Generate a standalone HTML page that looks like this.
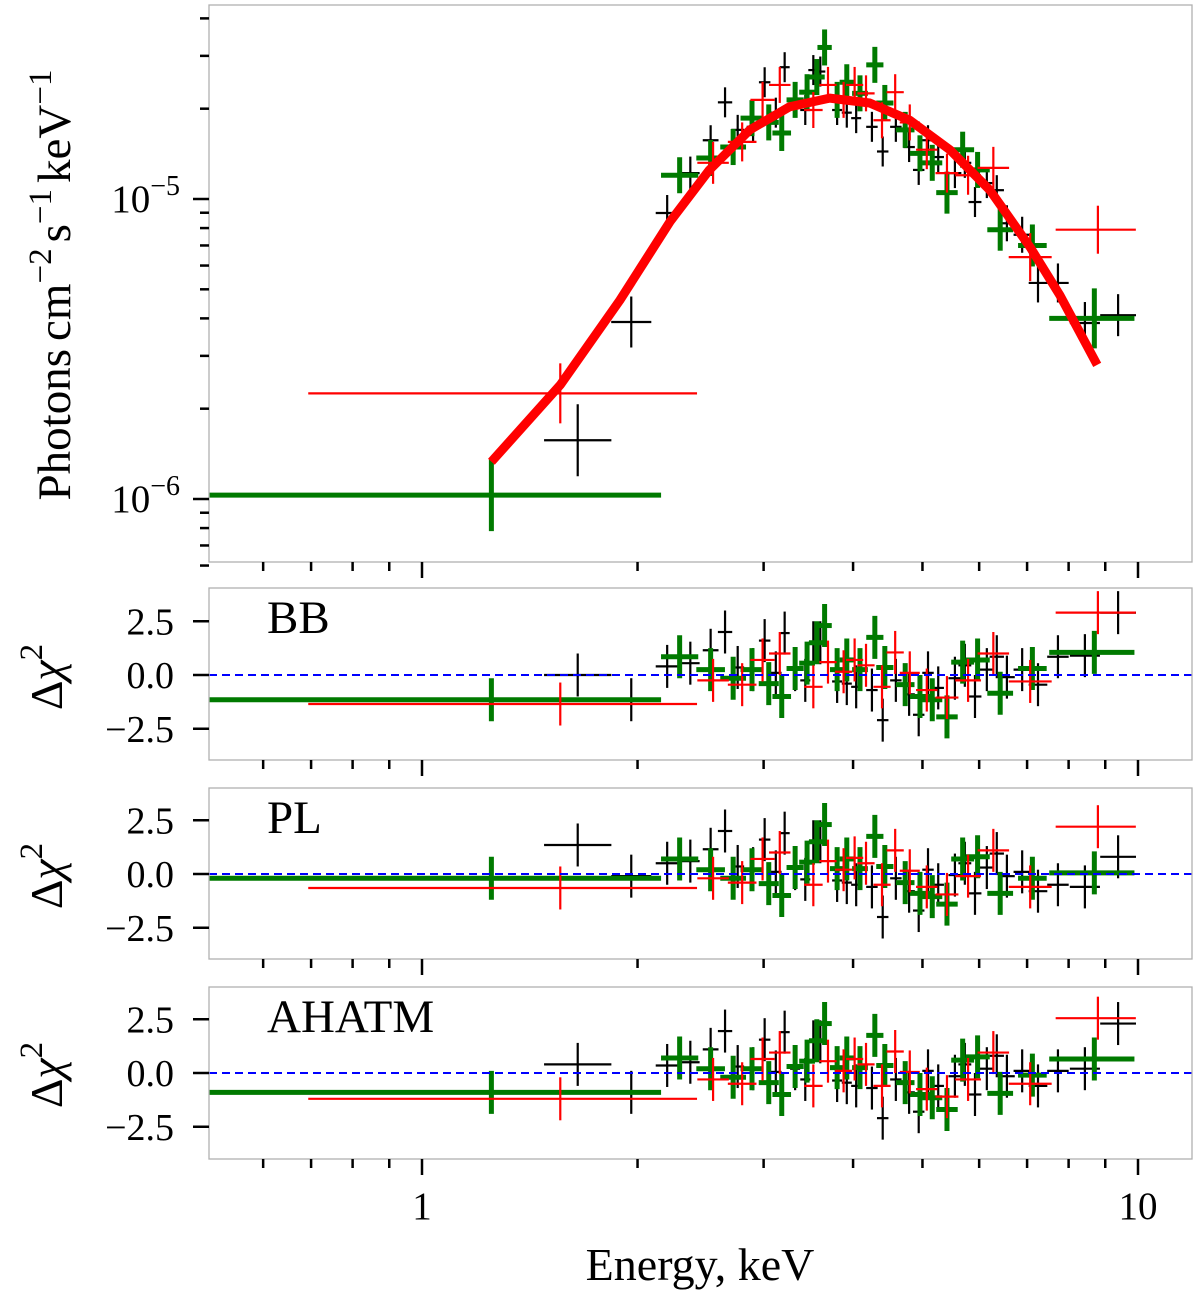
<!DOCTYPE html>
<html><head><meta charset="utf-8"><style>
body{margin:0;background:#fff}
svg{display:block;font-family:"Liberation Serif",serif}
</style></head><body>
<svg id="chart" width="1200" height="1292" viewBox="0 0 1200 1292" xmlns="http://www.w3.org/2000/svg"></svg>
<script>
// ---------- data ----------
const blackE=[1.65,1.96,2.20,2.37,2.53,2.65,2.76,2.90,3.01,3.12,3.21,3.32,3.43,3.52,3.60,3.80,3.92,4.04,4.25,4.40,4.59,4.79,4.94,5.09,5.26,5.55,5.73,5.92,6.15,6.35,6.56,6.89,7.25,7.73,8.43,9.38];
const blackF=[0.157,0.389,0.898,1.22,1.57,2.10,1.70,1.74,2.45,1.94,2.75,2.14,1.98,2.69,2.66,1.98,1.94,1.86,1.74,1.44,1.74,1.49,1.25,1.57,1.38,1.22,1.32,0.977,1.13,1.07,0.83,0.76,0.525,0.525,0.386,0.41];
const blackErr=[0.12,0.085,0.06,0.055,0.05,0.05,0.05,0.05,0.05,0.05,0.05,0.05,0.05,0.05,0.05,0.05,0.05,0.05,0.05,0.05,0.05,0.05,0.05,0.05,0.05,0.05,0.05,0.05,0.05,0.05,0.06,0.06,0.065,0.065,0.07,0.07];
const blackHw=[0.047,0.028,0.016,0.013,0.011,0.01,0.009,0.009,0.008,0.008,0.007,0.007,0.007,0.007,0.007,0.007,0.007,0.007,0.008,0.008,0.008,0.008,0.008,0.008,0.008,0.009,0.009,0.009,0.01,0.01,0.011,0.012,0.013,0.015,0.021,0.025];
const blackBB=[0,-1.15,0.4,0.55,1.15,2.0,0.35,0.25,1.6,0.1,1.95,0.25,-0.25,1.5,1.5,-0.3,-0.4,-0.55,-0.7,-2.1,-0.25,-0.9,-1.85,0.1,-0.6,-0.15,0.45,-1.0,0.25,0.85,-0.1,0.25,-0.45,0.85,0.9,2.9];
const blackPL=[1.35,-0.1,0.5,0.6,1.15,2.0,0.35,0.25,1.6,0.1,1.9,0.25,-0.25,1.5,1.5,-0.3,-0.4,-0.5,-0.6,-2.0,-0.2,-0.8,-1.7,0.2,-0.5,-0.05,0.5,-0.9,0.3,0.95,-0.1,0.1,-0.8,-0.5,-0.6,0.8];
const blackAH=[0.4,-0.9,0.35,0.5,1.1,1.95,0.3,0.2,1.55,0.05,1.9,0.2,-0.3,1.45,1.45,-0.35,-0.45,-0.6,-0.7,-2.1,-0.3,-0.9,-1.8,0.1,-0.6,-0.15,0.4,-1.0,0.2,0.8,-0.15,0.1,-0.6,0.1,0.2,2.3];

const redE=[1.56,2.55,2.80,2.99,3.16,3.52,3.69,3.88,4.02,4.17,4.39,4.58,4.80,5.07,5.41,5.79,6.28,7.07,8.79];
const redF=[0.225,1.32,1.55,2.14,2.40,1.98,2.40,2.14,2.40,2.25,1.83,2.27,1.80,1.46,1.22,1.20,1.27,0.64,0.79];
const redErr=[0.1,0.07,0.065,0.06,0.06,0.06,0.06,0.06,0.06,0.06,0.06,0.06,0.06,0.065,0.065,0.065,0.07,0.08,0.08];
const redHwLo=[0.352,0.022,0.02,0.017,0.015,0.013,0.012,0.012,0.012,0.012,0.012,0.012,0.014,0.015,0.016,0.018,0.022,0.03,0.059];
const redHwHi=[0.191,0.022,0.02,0.017,0.015,0.013,0.012,0.012,0.012,0.012,0.012,0.012,0.014,0.015,0.016,0.018,0.022,0.03,0.053];
const redBB=[-1.35,-0.25,-0.45,0.7,1.0,-0.55,0.6,0.15,0.7,0.45,-0.55,1.05,0.1,-0.7,-1.05,-0.25,1.0,-0.3,2.9];
const redPL=[-0.65,-0.2,-0.4,0.7,1.0,-0.5,0.6,0.2,0.75,0.5,-0.5,1.1,0.15,-0.6,-0.95,-0.1,1.1,-0.6,2.2];
const redAH=[-1.2,-0.3,-0.5,0.65,0.95,-0.6,0.55,0.1,0.65,0.4,-0.6,1.0,0.05,-0.75,-1.1,-0.3,0.95,-0.5,2.55];

const greenE=[1.25,2.29,2.53,2.72,2.89,3.05,3.18,3.32,3.45,3.56,3.65,3.80,3.92,4.09,4.29,4.43,4.73,4.96,5.16,5.41,5.69,5.97,6.42,7.12,8.69];
const greenF=[0.103,1.2,1.37,1.49,1.86,1.80,1.66,2.14,2.27,2.55,3.2,2.14,2.45,2.25,2.8,2.09,1.70,1.42,1.32,1.05,1.46,1.25,0.79,0.70,0.40];
const greenErr=[0.12,0.06,0.06,0.06,0.06,0.06,0.06,0.06,0.06,0.06,0.06,0.06,0.06,0.06,0.06,0.06,0.06,0.06,0.06,0.07,0.06,0.06,0.07,0.07,0.1];
const greenHwLo=[0.44,0.026,0.02,0.018,0.016,0.014,0.013,0.012,0.011,0.011,0.01,0.01,0.01,0.011,0.012,0.012,0.013,0.014,0.014,0.015,0.016,0.017,0.018,0.02,0.063];
const greenHwHi=[0.237,0.026,0.02,0.018,0.016,0.014,0.013,0.012,0.011,0.011,0.01,0.01,0.01,0.011,0.012,0.012,0.013,0.014,0.014,0.015,0.016,0.017,0.018,0.02,0.056];
const greenBB=[-1.15,0.85,0.25,-0.15,0.25,-0.4,-1.0,0.3,0.55,1.5,2.3,0.25,0.7,0.25,1.75,0.35,-0.45,-1.0,-1.15,-1.95,0.6,0.7,-0.85,0.3,1.05];
const greenPL=[-0.2,0.7,0.2,-0.2,0.2,-0.45,-1.0,0.3,0.55,1.5,2.3,0.25,0.7,0.25,1.75,0.35,-0.4,-0.9,-1.05,-1.4,0.7,0.8,-0.9,-0.2,0.05];
const greenAH=[-0.9,0.7,0.2,-0.2,0.2,-0.45,-1.0,0.3,0.55,1.5,2.3,0.25,0.7,0.25,1.75,0.35,-0.45,-1.0,-1.15,-1.7,0.6,0.75,-0.95,-0.1,0.65];

const modelE=[1.25,1.56,1.89,2.22,2.52,2.87,3.26,3.71,4.22,4.80,5.46,6.21,7.07,7.78,8.77];
const modelF=[0.133,0.24,0.46,0.84,1.25,1.7,2.03,2.17,2.09,1.83,1.46,1.07,0.69,0.478,0.28];

const xMinorTicks=[0.5,0.6,0.7,0.8,0.9,2,3,4,5,6,7,8,9];
const xMajorTicks=[1,10];
const yMajorTicks=[1e-6,1e-5];
const yMinorTicks=[6e-7,7e-7,8e-7,9e-7,2e-6,3e-6,4e-6,5e-6,6e-6,7e-6,8e-6,9e-6,2e-5,3e-5,4e-5];
const resTicks=[2.5,0,-2.5];
const resTickLabels=["2.5","0.0","\u22122.5"];
const panelNames=["BB","PL","AHATM"];

// ---------- layout ----------
const NS="http://www.w3.org/2000/svg";
const svg=document.getElementById('chart');
const L=209,R=1192;
const X0=422,DEC=716;
const xs=e=>X0+DEC*Math.log10(e);
const MT=5,MB=562;
const ysMain=f=>199-300*(Math.log10(f)+5);
const panels=[{top:588,bot:760,zero:675},{top:788,bot:959,zero:874},{top:987,bot:1159,zero:1073}];
const RS=21.5;

function el(tag,attrs,parent){const e=document.createElementNS(NS,tag);for(const k in attrs)e.setAttribute(k,attrs[k]);(parent||svg).appendChild(e);return e;}

const defs=el('defs',{});
function clip(id,y1,y2){const c=el('clipPath',{id:id},defs);el('rect',{x:L,y:y1,width:R-L,height:y2-y1},c);}
clip('cm',MT,MB);panels.forEach((p,i)=>clip('cr'+i,p.top,p.bot));

function xTicks(yb,labels,g){
  xMinorTicks.forEach(t=>{const x=xs(t);if(x<L-1||x>R)return;el('line',{x1:x,x2:x,y1:yb,y2:yb+9,stroke:'#000','stroke-width':2.5},g);});
  xMajorTicks.forEach(t=>{const x=xs(t);el('line',{x1:x,x2:x,y1:yb,y2:yb+16,stroke:'#000','stroke-width':2.5},g);
    if(labels){const tx=el('text',{x:x,y:1219,'font-size':39,'text-anchor':'middle'},g);tx.textContent=String(t);}});
}
function seg(g,x1,y1,x2,y2,c,w){el('line',{x1:x1,y1:y1,x2:x2,y2:y2,stroke:c,'stroke-width':w},g);}

function drawSeries(g,name,E,yv,errLo,errHi,hwLo,hwHi,color,w){
  for(let i=0;i<E.length;i++){
    const pg=el('g',{},g);
    
    
    const x=xs(E[i]),y=yv(i);
    seg(pg,xs(E[i]/Math.pow(10,hwLo[i])),y,xs(E[i]*Math.pow(10,hwHi[i])),y,color,w);
    seg(pg,x,errLo(i),x,errHi(i),color,w);
  }
}

// ---------- main panel ----------
const gm=el('g',{});
const gmd=el('g',{'clip-path':'url(#cm)'},gm);
const series=[
 {n:'black',E:blackE,F:blackF,err:blackErr,lo:blackHw,hi:blackHw,c:'#000',w:2.2,r:[blackBB,blackPL,blackAH]},
 {n:'green',E:greenE,F:greenF,err:greenErr,lo:greenHwLo,hi:greenHwHi,c:'#007a00',w:5,r:[greenBB,greenPL,greenAH]},
 {n:'red',E:redE,F:redF,err:redErr,lo:redHwLo,hi:redHwHi,c:'#ff0000',w:2.2,r:[redBB,redPL,redAH]}
];
series.forEach(s=>{
  drawSeries(gmd,s.n+'-spectrum',s.E,i=>ysMain(s.F[i]*1e-5),
    i=>ysMain(s.F[i]*1e-5*Math.pow(10,-s.err[i])),i=>ysMain(s.F[i]*1e-5*Math.pow(10,s.err[i])),s.lo,s.hi,s.c,s.w);
});
const mp=modelE.map((e,i)=>xs(e).toFixed(1)+','+ysMain(modelF[i]*1e-5).toFixed(1)).join(' ');
const model=el('polyline',{points:mp,fill:'none',stroke:'#ff0000','stroke-width':9,'stroke-linejoin':'round'},gmd);


el('rect',{x:L,y:MT,width:R-L,height:MB-MT,fill:'none',stroke:'#b0b0b0','stroke-width':1.3},gm);
xTicks(MB,false,gm);
yMinorTicks.forEach(t=>{const y=ysMain(t);el('line',{x1:L-9,x2:L,y1:y,y2:y,stroke:'#000','stroke-width':2.5},gm);});
yMajorTicks.forEach(t=>{const y=ysMain(t);el('line',{x1:L-16,x2:L,y1:y,y2:y,stroke:'#000','stroke-width':2.5},gm);
  const tx=el('text',{x:180,y:y+13,'font-size':39,'text-anchor':'end'},gm);
  
  
  const exp=Math.round(Math.log10(t));
  tx.innerHTML='10<tspan dy="-17" font-size="28">\u2212'+Math.abs(exp)+'</tspan>';});
const yl=el('text',{x:0,y:0,'font-size':47,'text-anchor':'middle',transform:'translate(70,285) rotate(-90)'},gm);


yl.innerHTML='Photons<tspan dx="8">cm</tspan><tspan dy="-19" font-size="33">\u22122</tspan><tspan dy="19" dx="6">s</tspan><tspan dy="-19" font-size="33">\u22121</tspan><tspan dy="19" dx="6">keV</tspan><tspan dy="-19" font-size="33">\u22121</tspan>';

// ---------- residual panels ----------
panels.forEach((p,k)=>{
  const g=el('g',{});
  const gd=el('g',{'clip-path':'url(#cr'+k+')'},g);
  const yr=v=>p.zero-RS*v;
  series.forEach(s=>{
    const r=s.r[k];
    drawSeries(gd,s.n+'-residual',s.E,i=>yr(r[i]),i=>yr(r[i]-1),i=>yr(r[i]+1),s.lo,s.hi,s.c,s.w);
  });
  const zl=el('line',{x1:L,x2:R,y1:p.zero,y2:p.zero,stroke:'#0000ff','stroke-width':2,'stroke-dasharray':'8,5'},g);
  
  
  el('rect',{x:L,y:p.top,width:R-L,height:p.bot-p.top,fill:'none',stroke:'#b0b0b0','stroke-width':1.3},g);
  xTicks(p.bot,k===2,g);
  resTicks.forEach((t,j)=>{const y=yr(t);el('line',{x1:L-16,x2:L,y1:y,y2:y,stroke:'#000','stroke-width':2.5},g);
    const tx=el('text',{x:174,y:y+13,'font-size':38,'text-anchor':'end'},g);tx.textContent=resTickLabels[j];});
  const nm=el('text',{x:267,y:p.top+45,'font-size':47},g);
  
  
  nm.textContent=panelNames[k];
  const dl=el('text',{x:0,y:0,'font-size':46,'text-anchor':'middle',transform:'translate(62,'+(p.zero+2)+') rotate(-90)'},g);
  
  
  dl.innerHTML='\u0394<tspan font-style="italic">\u03c7</tspan><tspan dy="-20" font-size="33">2</tspan>';
});
const xl=el('text',{x:700,y:1280,'font-size':46,'text-anchor':'middle'});


xl.textContent='Energy, keV';
</script>
</body></html>
